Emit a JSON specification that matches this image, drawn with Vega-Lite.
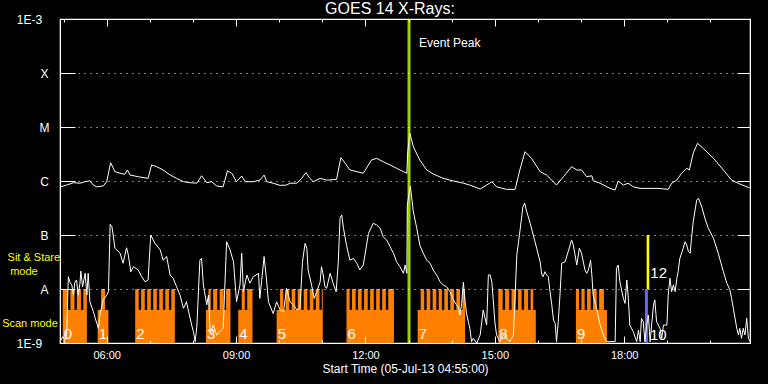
{
"$schema": "https://vega.github.io/schema/vega-lite/v6.json",
"width": 690, "height": 324,
"autosize": {"type": "none"},
"padding": {"left": 60, "top": 19, "right": 18, "bottom": 41},
"background": "black",
"title": {"text": "GOES 14 X-Rays:", "color": "white", "font": "Liberation Sans", "fontSize": 16, "fontWeight": "normal", "dx": -15, "offset": -4},
"config": {"view": {"stroke": "white", "strokeWidth": 1.2}, "font": "Liberation Sans"},
"datasets": {
"long": [
{"t":4.92,"f":7.8e-7},{"t":5.07,"f":8.4e-7},{"t":5.23,"f":9.3e-7},{"t":5.38,"f":9.1e-7},{"t":5.50,"f":9.7e-7},{"t":5.61,"f":1.01e-6},{"t":5.69,"f":8.4e-7},{"t":5.77,"f":7.8e-7},{"t":5.92,"f":8.1e-7},{"t":6.00,"f":9.7e-7},{"t":6.09,"f":2.18e-6},{"t":6.19,"f":1.49e-6},{"t":6.31,"f":1.39e-6},{"t":6.42,"f":1.33e-6},{"t":6.48,"f":1.60e-6},{"t":6.54,"f":1.29e-6},{"t":6.73,"f":1.20e-6},{"t":6.96,"f":1.12e-6},{"t":7.04,"f":1.98e-6},{"t":7.16,"f":1.84e-6},{"t":7.31,"f":1.60e-6},{"t":7.47,"f":1.29e-6},{"t":7.62,"f":1.12e-6},{"t":7.78,"f":9.7e-7},{"t":7.93,"f":9.3e-7},{"t":8.09,"f":9.1e-7},{"t":8.20,"f":1.25e-6},{"t":8.32,"f":9.3e-7},{"t":8.43,"f":9.7e-7},{"t":8.55,"f":8.1e-7},{"t":8.70,"f":7.8e-7},{"t":8.80,"f":1.55e-6},{"t":8.90,"f":1.39e-6},{"t":9.01,"f":9.7e-7},{"t":9.13,"f":1.24e-6},{"t":9.21,"f":9.7e-7},{"t":9.40,"f":9.7e-7},{"t":9.55,"f":1.04e-6},{"t":9.65,"f":1.29e-6},{"t":9.71,"f":9.7e-7},{"t":9.86,"f":9.1e-7},{"t":10.02,"f":8.3e-7},{"t":10.17,"f":8.4e-7},{"t":10.25,"f":9.1e-7},{"t":10.41,"f":9.1e-7},{"t":10.52,"f":1.12e-6},{"t":10.62,"f":1.43e-6},{"t":10.71,"f":1.12e-6},{"t":10.79,"f":9.7e-7},{"t":10.95,"f":1.12e-6},{"t":11.10,"f":1.04e-6},{"t":11.33,"f":1.07e-6},{"t":11.43,"f":2.70e-6},{"t":11.53,"f":2.13e-6},{"t":11.64,"f":1.60e-6},{"t":11.80,"f":1.49e-6},{"t":11.95,"f":1.39e-6},{"t":12.14,"f":2.45e-6},{"t":12.26,"f":2.63e-6},{"t":12.41,"f":2.28e-6},{"t":12.57,"f":1.98e-6},{"t":12.72,"f":1.72e-6},{"t":12.88,"f":1.49e-6},{"t":12.96,"f":1.39e-6},{"t":12.98,"f":3.49e-6},{"t":13.03,"f":7.6e-6},{"t":13.11,"f":4.32e-6},{"t":13.26,"f":2.45e-6},{"t":13.42,"f":1.60e-6},{"t":13.57,"f":1.35e-6},{"t":13.80,"f":1.12e-6},{"t":14.04,"f":1.00e-6},{"t":14.27,"f":9.1e-7},{"t":14.42,"f":8.4e-7},{"t":14.66,"f":7.1e-7},{"t":14.81,"f":8.4e-7},{"t":14.93,"f":9.7e-7},{"t":15.04,"f":7.8e-7},{"t":15.27,"f":7.0e-7},{"t":15.47,"f":7.0e-7},{"t":15.58,"f":1.60e-6},{"t":15.70,"f":3.49e-6},{"t":15.85,"f":2.63e-6},{"t":16.05,"f":1.49e-6},{"t":16.20,"f":1.29e-6},{"t":16.32,"f":1.04e-6},{"t":16.43,"f":8.4e-7},{"t":16.59,"f":1.20e-6},{"t":16.78,"f":1.84e-6},{"t":16.90,"f":1.60e-6},{"t":17.01,"f":1.60e-6},{"t":17.13,"f":1.20e-6},{"t":17.25,"f":1.25e-6},{"t":17.28,"f":1.01e-6},{"t":17.44,"f":9.1e-7},{"t":17.67,"f":7.3e-7},{"t":17.79,"f":6.8e-7},{"t":17.86,"f":1.00e-6},{"t":17.98,"f":8.4e-7},{"t":18.09,"f":9.1e-7},{"t":18.21,"f":7.8e-7},{"t":18.37,"f":7.3e-7},{"t":18.60,"f":7.3e-7},{"t":18.79,"f":7.3e-7},{"t":19.02,"f":7.0e-7},{"t":19.10,"f":9.1e-7},{"t":19.22,"f":1.04e-6},{"t":19.33,"f":1.39e-6},{"t":19.45,"f":1.72e-6},{"t":19.51,"f":1.60e-6},{"t":19.60,"f":3.26e-6},{"t":19.70,"f":4.99e-6},{"t":19.83,"f":4.03e-6},{"t":20.07,"f":2.63e-6},{"t":20.30,"f":1.60e-6},{"t":20.49,"f":1.04e-6},{"t":20.68,"f":8.8e-7},{"t":20.90,"f":7.5e-7}
],
"short": [
{"t":4.92,"f":1.06e-9},{"t":4.98,"f":1.31e-9},{"t":5.03,"f":1.14e-9},{"t":5.07,"f":1.41e-9},{"t":5.11,"f":1.69e-8},{"t":5.15,"f":1.33e-8},{"t":5.19,"f":1.19e-8},{"t":5.23,"f":7.7e-9},{"t":5.26,"f":1.33e-8},{"t":5.30,"f":1.47e-8},{"t":5.34,"f":7.7e-9},{"t":5.38,"f":1.28e-8},{"t":5.40,"f":2.15e-8},{"t":5.44,"f":1.10e-8},{"t":5.50,"f":1.95e-8},{"t":5.54,"f":7.7e-9},{"t":5.57,"f":1.95e-8},{"t":5.61,"f":5.8e-9},{"t":5.69,"f":3.8e-9},{"t":5.77,"f":2.3e-9},{"t":5.81,"f":1.87e-9},{"t":5.84,"f":3.3e-9},{"t":5.92,"f":6.3e-9},{"t":6.00,"f":7.7e-9},{"t":6.04,"f":8.9e-9},{"t":6.08,"f":1.58e-7},{"t":6.12,"f":1.43e-7},{"t":6.15,"f":1.0e-7},{"t":6.19,"f":5.7e-8},{"t":6.31,"f":4.6e-8},{"t":6.38,"f":3.0e-8},{"t":6.46,"f":5.8e-8},{"t":6.50,"f":4.3e-8},{"t":6.56,"f":2.09e-8},{"t":6.62,"f":2.59e-8},{"t":6.73,"f":2.25e-8},{"t":6.81,"f":1.69e-8},{"t":6.89,"f":1.36e-8},{"t":6.96,"f":1.47e-8},{"t":7.02,"f":1.0e-7},{"t":7.12,"f":7.0e-8},{"t":7.24,"f":5.3e-8},{"t":7.31,"f":3.4e-8},{"t":7.39,"f":4.0e-8},{"t":7.47,"f":1.82e-8},{"t":7.54,"f":1.58e-8},{"t":7.62,"f":1.10e-8},{"t":7.70,"f":7.7e-9},{"t":7.78,"f":4.4e-9},{"t":7.85,"f":5.8e-9},{"t":7.89,"f":4.1e-9},{"t":7.97,"f":2.15e-9},{"t":8.01,"f":1.62e-9},{"t":8.05,"f":1.06e-9},{"t":8.09,"f":2.0e-9},{"t":8.16,"f":3.4e-8},{"t":8.20,"f":3.7e-8},{"t":8.24,"f":1.19e-8},{"t":8.32,"f":5.1e-9},{"t":8.36,"f":7.7e-9},{"t":8.40,"f":1.51e-9},{"t":8.47,"f":2.15e-9},{"t":8.55,"f":1.41e-9},{"t":8.63,"f":1.62e-9},{"t":8.70,"f":1.87e-9},{"t":8.78,"f":7.5e-8},{"t":8.86,"f":5.3e-8},{"t":8.94,"f":3.2e-8},{"t":9.01,"f":5.8e-9},{"t":9.09,"f":1.19e-8},{"t":9.13,"f":4.6e-8},{"t":9.17,"f":8.9e-9},{"t":9.25,"f":1.82e-8},{"t":9.32,"f":1.28e-8},{"t":9.40,"f":1.69e-8},{"t":9.52,"f":1.95e-8},{"t":9.55,"f":6.7e-9},{"t":9.59,"f":1.36e-8},{"t":9.65,"f":4.0e-8},{"t":9.71,"f":1.36e-8},{"t":9.75,"f":5.8e-9},{"t":9.86,"f":3.5e-9},{"t":9.94,"f":5.8e-9},{"t":10.02,"f":4.1e-9},{"t":10.10,"f":3.8e-9},{"t":10.17,"f":1.03e-8},{"t":10.25,"f":5.8e-9},{"t":10.33,"f":5.1e-9},{"t":10.41,"f":4.1e-9},{"t":10.48,"f":4.4e-9},{"t":10.54,"f":3.2e-8},{"t":10.60,"f":7.0e-8},{"t":10.64,"f":5.7e-8},{"t":10.67,"f":2.25e-8},{"t":10.75,"f":1.19e-8},{"t":10.81,"f":6.7e-9},{"t":10.87,"f":8.9e-9},{"t":10.95,"f":1.36e-8},{"t":10.98,"f":2.59e-8},{"t":11.02,"f":1.82e-8},{"t":11.06,"f":1.10e-8},{"t":11.10,"f":1.03e-8},{"t":11.18,"f":1.95e-8},{"t":11.25,"f":1.28e-8},{"t":11.32,"f":8.9e-9},{"t":11.37,"f":3.2e-8},{"t":11.41,"f":2.04e-7},{"t":11.45,"f":2.35e-7},{"t":11.49,"f":1.33e-7},{"t":11.56,"f":6.5e-8},{"t":11.64,"f":3.4e-8},{"t":11.72,"f":3.7e-8},{"t":11.80,"f":3.0e-8},{"t":11.87,"f":2.25e-8},{"t":11.95,"f":2.78e-8},{"t":12.07,"f":1.07e-7},{"t":12.18,"f":1.65e-7},{"t":12.26,"f":1.53e-7},{"t":12.34,"f":1.33e-7},{"t":12.41,"f":9.3e-8},{"t":12.49,"f":8.1e-8},{"t":12.57,"f":6.1e-8},{"t":12.65,"f":4.6e-8},{"t":12.72,"f":3.2e-8},{"t":12.80,"f":2.59e-8},{"t":12.88,"f":1.95e-8},{"t":12.92,"f":2.78e-8},{"t":12.96,"f":1.95e-8},{"t":12.97,"f":3.6e-7},{"t":13.04,"f":8.1e-7},{"t":13.11,"f":2.7e-7},{"t":13.19,"f":1.33e-7},{"t":13.26,"f":6.5e-8},{"t":13.34,"f":4.6e-8},{"t":13.42,"f":3.4e-8},{"t":13.50,"f":3.0e-8},{"t":13.57,"f":2.25e-8},{"t":13.65,"f":1.82e-8},{"t":13.73,"f":1.36e-8},{"t":13.80,"f":1.19e-8},{"t":13.88,"f":1.10e-8},{"t":13.96,"f":8.9e-9},{"t":14.04,"f":6.3e-9},{"t":14.11,"f":5.1e-9},{"t":14.15,"f":4.7e-9},{"t":14.19,"f":3.3e-9},{"t":14.23,"f":5.4e-9},{"t":14.27,"f":1.33e-8},{"t":14.31,"f":5.8e-9},{"t":14.35,"f":3.3e-9},{"t":14.42,"f":1.87e-9},{"t":14.46,"f":1.06e-9},{"t":14.50,"f":1.22e-9},{"t":14.58,"f":1.0e-9},{"t":14.66,"f":1.41e-9},{"t":14.73,"f":4.1e-9},{"t":14.81,"f":2.15e-9},{"t":14.85,"f":1.82e-8},{"t":14.89,"f":1.82e-8},{"t":14.93,"f":1.36e-8},{"t":14.96,"f":6.7e-9},{"t":15.00,"f":2.48e-9},{"t":15.04,"f":1.41e-9},{"t":15.12,"f":1.06e-9},{"t":15.20,"f":1.41e-9},{"t":15.27,"f":1.22e-9},{"t":15.35,"f":1.06e-9},{"t":15.43,"f":1.41e-9},{"t":15.51,"f":4.3e-8},{"t":15.58,"f":1.15e-7},{"t":15.65,"f":3.3e-7},{"t":15.69,"f":3.9e-7},{"t":15.74,"f":2.7e-7},{"t":15.82,"f":1.65e-7},{"t":15.89,"f":1.0e-7},{"t":15.97,"f":5.7e-8},{"t":16.05,"f":3.2e-8},{"t":16.09,"f":1.82e-8},{"t":16.12,"f":1.69e-8},{"t":16.16,"f":2.09e-8},{"t":16.20,"f":1.82e-8},{"t":16.24,"f":1.69e-8},{"t":16.28,"f":8.9e-9},{"t":16.32,"f":5.1e-9},{"t":16.36,"f":2.67e-9},{"t":16.40,"f":2.3e-9},{"t":16.43,"f":1.06e-9},{"t":16.47,"f":2.48e-9},{"t":16.51,"f":7.7e-9},{"t":16.55,"f":3.0e-8},{"t":16.63,"f":3.2e-8},{"t":16.70,"f":4.9e-8},{"t":16.78,"f":8.1e-8},{"t":16.82,"f":6.5e-8},{"t":16.90,"f":2.78e-8},{"t":16.96,"f":5.7e-8},{"t":17.01,"f":4.6e-8},{"t":17.09,"f":2.25e-8},{"t":17.13,"f":1.95e-8},{"t":17.17,"f":2.25e-8},{"t":17.22,"f":3.4e-8},{"t":17.25,"f":1.82e-8},{"t":17.28,"f":7.7e-9},{"t":17.36,"f":4.4e-9},{"t":17.44,"f":2.15e-9},{"t":17.52,"f":1.41e-9},{"t":17.59,"f":1.06e-9},{"t":17.67,"f":1.06e-9},{"t":17.79,"f":1.06e-9},{"t":17.82,"f":2.42e-8},{"t":17.86,"f":2.78e-8},{"t":17.90,"f":1.36e-8},{"t":17.98,"f":6.7e-9},{"t":18.02,"f":5.4e-9},{"t":18.06,"f":1.47e-8},{"t":18.09,"f":7.7e-9},{"t":18.13,"f":2.15e-9},{"t":18.21,"f":1.62e-9},{"t":18.29,"f":1.06e-9},{"t":18.33,"f":1.74e-9},{"t":18.37,"f":1.06e-9},{"t":18.40,"f":2.87e-9},{"t":18.44,"f":2.48e-9},{"t":18.48,"f":1.06e-9},{"t":18.52,"f":2.15e-9},{"t":18.56,"f":3.3e-9},{"t":18.60,"f":1.06e-9},{"t":18.68,"f":5.1e-9},{"t":18.71,"f":6.3e-9},{"t":18.75,"f":2.48e-9},{"t":18.83,"f":1.87e-9},{"t":18.87,"f":1.22e-9},{"t":18.91,"f":2.15e-9},{"t":18.99,"f":2.15e-9},{"t":19.02,"f":7.7e-9},{"t":19.06,"f":1.58e-8},{"t":19.10,"f":8.9e-9},{"t":19.14,"f":1.19e-8},{"t":19.18,"f":8.9e-9},{"t":19.22,"f":1.58e-8},{"t":19.25,"f":2.09e-8},{"t":19.29,"f":3.7e-8},{"t":19.37,"f":5.7e-8},{"t":19.41,"f":7.5e-8},{"t":19.45,"f":6.5e-8},{"t":19.49,"f":4.9e-8},{"t":19.53,"f":4.6e-8},{"t":19.56,"f":8.7e-8},{"t":19.60,"f":1.76e-7},{"t":19.68,"f":4.4e-7},{"t":19.72,"f":4.8e-7},{"t":19.80,"f":3.3e-7},{"t":19.87,"f":2.04e-7},{"t":19.95,"f":1.33e-7},{"t":20.07,"f":8.7e-8},{"t":20.18,"f":4.6e-8},{"t":20.30,"f":2.09e-8},{"t":20.38,"f":1.28e-8},{"t":20.45,"f":9.6e-9},{"t":20.49,"f":6.7e-9},{"t":20.53,"f":4.4e-9},{"t":20.61,"f":1.87e-9},{"t":20.65,"f":1.41e-9},{"t":20.68,"f":1.87e-9},{"t":20.72,"f":1.22e-9},{"t":20.76,"f":1.87e-9},{"t":20.80,"f":1.41e-9},{"t":20.84,"f":2.87e-9},{"t":20.88,"f":1.22e-9},{"t":20.92,"f":1.06e-9}
],
"blocks": [
{"id":"0","t0":4.98,"t1":5.54,"c0":4.98,"c1":5.54},
{"id":"1","t0":5.79,"t1":6.04,"c0":5.87,"c1":5.96},
{"id":"2","t0":6.66,"t1":7.58,"c0":6.66,"c1":7.58},
{"id":"3","t0":8.30,"t1":8.87,"c0":8.36,"c1":8.87},
{"id":"4","t0":9.05,"t1":9.38,"c0":9.13,"c1":9.38},
{"id":"5","t0":9.94,"t1":11.01,"c0":10.02,"c1":11.01},
{"id":"6","t0":11.56,"t1":12.66,"c0":11.56,"c1":12.66},
{"id":"7","t0":13.21,"t1":14.31,"c0":13.28,"c1":14.31},
{"id":"8","t0":15.08,"t1":15.95,"c0":15.08,"c1":15.89},
{"id":"9","t0":16.88,"t1":17.60,"c0":16.88,"c1":17.53}
],
"gaps": [
{"t":5.13},{"t":5.28},{"t":5.43},
{"t":6.77},{"t":6.91},{"t":7.05},{"t":7.19},{"t":7.33},{"t":7.47},
{"t":8.44},{"t":8.59},{"t":8.74},
{"t":9.23},
{"t":10.12},{"t":10.26},{"t":10.40},{"t":10.54},{"t":10.68},{"t":10.82},{"t":10.96},
{"t":11.66},{"t":11.80},{"t":11.94},{"t":12.08},{"t":12.22},{"t":12.36},{"t":12.50},
{"t":13.39},{"t":13.53},{"t":13.67},{"t":13.80},{"t":13.94},{"t":14.08},{"t":14.22},
{"t":15.21},{"t":15.36},{"t":15.51},{"t":15.65},{"t":15.80},
{"t":16.98},{"t":17.11},{"t":17.25},{"t":17.39}
],
"sitstare": [
{"mode":"scan","t0":18.48,"t1":18.55,"lo":1e-9,"hi":1e-8},
{"mode":"sit","t0":18.52,"t1":18.58,"lo":1e-8,"hi":1e-7}
],
"event": [{"t":13.01,"label":"Event Peak","f":3.07e-4}],
"notes": [{"label":"12","t":18.80,"f":1.6e-8},{"label":"10","t":18.79,"f":1.14e-9}],
"modelabels": [
{"label":"Sit & Stare","t":4.31,"f":3.7e-8},
{"label":"mode","t":4.08,"f":2.05e-8},
{"label":"Scan mode","t":4.22,"f":2.25e-9}
]
},
"layer": [
{"data":{"name":"blocks"},"mark":{"type":"rect","color":"#ff8000"},
 "encoding":{"x":{"field":"t0","type":"quantitative","axis":null},"x2":{"field":"t1"},"y":{"datum":1e-9,"type":"quantitative","axis":null},"y2":{"datum":4.1e-9}}},
{"data":{"name":"blocks"},"mark":{"type":"rect","color":"#ff8000"},
 "encoding":{"x":{"field":"c0","type":"quantitative","axis":null},"x2":{"field":"c1"},"y":{"datum":4.1e-9,"type":"quantitative","axis":null},"y2":{"datum":1e-8}}},
{"data":{"name":"gaps"},"mark":{"type":"rule","color":"black","strokeWidth":2.4},
 "encoding":{"x":{"field":"t","type":"quantitative","axis":null},"y":{"datum":4.1e-9,"type":"quantitative","axis":null},"y2":{"datum":1e-8}}},
{"data":{"name":"sitstare"},"mark":{"type":"rect"},
 "encoding":{"x":{"field":"t0","type":"quantitative","axis":null},"x2":{"field":"t1"},"y":{"field":"lo","type":"quantitative","axis":null},"y2":{"field":"hi"},
  "color":{"field":"mode","type":"nominal","scale":{"domain":["scan","sit"],"range":["#6464ff","#ffff00"]},"legend":null}}},
{"data":{"name":"event"},"mark":{"type":"rule","color":"#a0d000","strokeWidth":3},
 "encoding":{"x":{"field":"t","type":"quantitative","axis":null}}},
{"data":{"name":"long"},"mark":{"type":"line","color":"white","strokeWidth":1},
 "encoding":{
  "x":{"field":"t","type":"quantitative","scale":{"domain":[4.9167,20.9167],"nice":false,"zero":false},
   "axis":{"orient":"bottom","values":[5,6,7,8,9,10,11,12,13,14,15,16,17,18,19,20],
    "labelExpr":"datum.value % 3 === 0 ? (datum.value < 10 ? '0' : '') + datum.value + ':00' : ''",
    "tickSize":{"condition":{"test":"datum.value % 3 === 0","value":-7},"value":-3},
    "tickColor":"white","domainColor":"white","labelColor":"white","labelFont":"Liberation Sans","labelFontSize":11,"labelPadding":13,"labelFlush":false,"labelOverlap":false,
    "title":"Start Time (05-Jul-13 04:55:00)","titleColor":"white","titleFont":"Liberation Sans","titleFontSize":12,"titleFontWeight":"normal","titlePadding":-1,"grid":false,"zindex":1}},
  "y":{"field":"f","type":"quantitative","scale":{"type":"log","domain":[1e-9,1e-3],"nice":false},
   "axis":{"orient":"left","values":[1e-9,1e-8,1e-7,1e-6,1e-5,1e-4,1e-3],
    "labelExpr":"datum.value < 5e-9 ? '1E-9' : datum.value < 5e-8 ? 'A' : datum.value < 5e-7 ? 'B' : datum.value < 5e-6 ? 'C' : datum.value < 5e-5 ? 'M' : datum.value < 5e-4 ? 'X' : '1E-3'",
    "tickSize":{"condition":{"test":"datum.value < 5e-9 || datum.value > 5e-4","value":0},"value":-15},
    "tickColor":"white","domainColor":"white","labelColor":"white","labelFont":"Liberation Sans","labelFontSize":12,"labelAlign":"center","labelBaseline":"middle","labelPadding":31,
    "grid":true,"gridColor":"white","gridDash":[1,5],"gridOpacity":{"condition":{"test":"datum.value < 5e-9 || datum.value > 5e-4","value":0},"value":1},
    "title":null,"zindex":1}}}},
{"data":{"name":"short"},"mark":{"type":"line","color":"white","strokeWidth":1},
 "encoding":{
  "x":{"field":"t","type":"quantitative",
   "axis":{"orient":"top","values":[5,6,7,8,9,10,11,12,13,14,15,16,17,18,19,20],"labels":false,
    "tickSize":{"condition":{"test":"datum.value % 3 === 0","value":-7},"value":-3},
    "tickColor":"white","domainColor":"white","title":null,"grid":false,"zindex":1}},
  "y":{"field":"f","type":"quantitative",
   "axis":{"orient":"right","values":[1e-8,1e-7,1e-6,1e-5,1e-4],"labels":false,"tickSize":-13,
    "tickColor":"white","domainColor":"white","title":null,"grid":false,"zindex":1}}}},
{"data":{"name":"blocks"},"mark":{"type":"text","color":"white","align":"left","baseline":"alphabetic","dx":1,"fontSize":15,"font":"Liberation Sans"},
 "encoding":{"x":{"field":"t0","type":"quantitative","axis":null},"y":{"datum":1.19e-9,"type":"quantitative","axis":null},"text":{"field":"id"}}},
{"data":{"name":"notes"},"mark":{"type":"text","color":"white","align":"center","baseline":"alphabetic","fontSize":15,"font":"Liberation Sans"},
 "encoding":{"x":{"field":"t","type":"quantitative","axis":null},"y":{"field":"f","type":"quantitative","axis":null},"text":{"field":"label"}}},
{"data":{"name":"event"},"mark":{"type":"text","color":"white","align":"left","baseline":"alphabetic","dx":10,"fontSize":12,"font":"Liberation Sans"},
 "encoding":{"x":{"field":"t","type":"quantitative","axis":null},"y":{"field":"f","type":"quantitative","axis":null},"text":{"field":"label"}}},
{"data":{"name":"modelabels"},"mark":{"type":"text","color":"#ffff00","align":"center","baseline":"middle","fontSize":11,"font":"Liberation Sans"},
 "encoding":{"x":{"field":"t","type":"quantitative","axis":null},"y":{"field":"f","type":"quantitative","axis":null},"text":{"field":"label"}}}
],
"resolve": {"axis": {"x": "independent", "y": "independent"}}
}
